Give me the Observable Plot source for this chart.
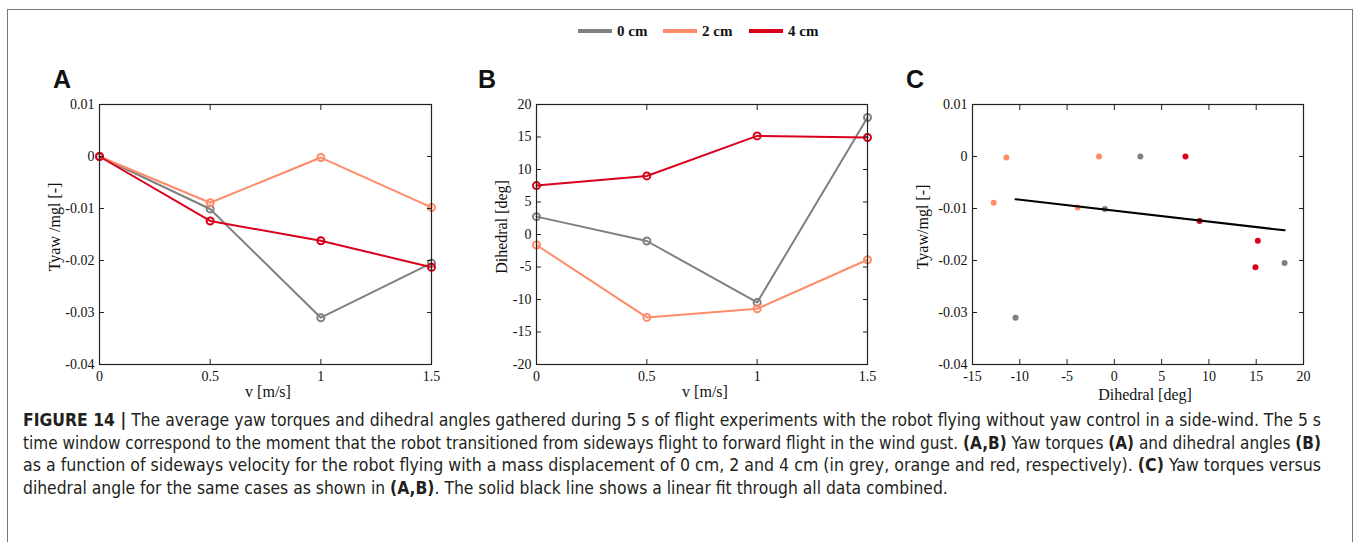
<!DOCTYPE html>
<html>
<head>
<meta charset="utf-8">
<script src="https://cdn.jsdelivr.net/npm/d3@7"></script>
<script src="https://cdn.jsdelivr.net/npm/@observablehq/plot@0.6"></script>
<style>
  html, body { margin: 0; padding: 0; background: #fff; }
  #root { position: relative; width: 1356px; height: 542px; overflow: hidden; background: #fff; }
  #border { position: absolute; left: 7px; top: 9px; width: 1346px; height: 600px;
            border: 1.5px solid #787878; box-sizing: border-box; }
  .plot { position: absolute; top: 60px; }
  .letter { position: absolute; font-family: "Liberation Sans", Arial, sans-serif; font-weight: bold;
            font-size: 25px; line-height: 1; color: #111; }
  .atitle { position: absolute; font-family: "Liberation Serif", serif; font-size: 16px; color: #111;
            white-space: nowrap; line-height: 1; }
  .legend-item { position: absolute; top: 22px; height: 18px; display: flex; align-items: center;
                 font-family: "Liberation Serif", serif; font-weight: bold; font-size: 15px; color: #111; white-space: nowrap; }
  .legend-item .sw { width: 34px; height: 4px; margin-right: 5px; }
  .cap { position: absolute; left: 23px; white-space: nowrap; font-size: 17px; line-height: 1;
         font-family: "Liberation Sans Narrow", "DejaVu Sans Condensed", "Liberation Sans", sans-serif;
         font-stretch: condensed; color: #231f20; transform-origin: 0 50%; }
  .cap b { font-weight: bold; }
</style>
</head>
<body>
<div id="root">
  <div id="border"></div>
</div>
<script>
// ---------- data ----------
const velocity = [0, 0.5, 1, 1.5];
const seriesNames = ["0 cm", "2 cm", "4 cm"];
const seriesColors = ["#808080", "#ff8c69", "#d9001b"];

const tyaw0cm = [0, -0.0101, -0.0310, -0.0205];
const tyaw2cm = [0, -0.0089, -0.0002, -0.0098];
const tyaw4cm = [0, -0.0124, -0.0162, -0.0213];

const dihedral0cm = [2.75, -1.0, -10.45, 18.0];
const dihedral2cm = [-1.62, -12.76, -11.42, -3.88];
const dihedral4cm = [7.52, 9.01, 15.17, 14.92];

// linear fit endpoints
const fitDihedral = [-10.45, 18.0];
const fitTyaw = [-0.0082, -0.0142];

const tyawTicks = [0.01, 0, -0.01, -0.02, -0.03, -0.04];
const velocityTicks = [0, 0.5, 1, 1.5];
const dihedralTicks = [20, 15, 10, 5, 0, -5, -10, -15, -20];
const dihedralXTicks = [-15, -10, -5, 0, 5, 10, 15, 20];

// ---------- build rows ----------
const tyawAll = [tyaw0cm, tyaw2cm, tyaw4cm];
const dihAll = [dihedral0cm, dihedral2cm, dihedral4cm];
const rows = [];
seriesNames.forEach((s, si) => {
  velocity.forEach((v, i) => {
    rows.push({series: s, color: seriesColors[si], v, tyaw: tyawAll[si][i], dihedral: dihAll[si][i]});
  });
});
const fitRows = fitDihedral.map((d, i) => ({dihedral: d, tyaw: fitTyaw[i]}));

const fmt = d => String(d);
const root = document.getElementById("root");

function boxAxes(xTicks, yTicks) {
  return [
    Plot.frame({stroke: "#222", strokeWidth: 1.2}),
    Plot.axisX(xTicks, {anchor: "bottom", tickSize: 0, tickPadding: 7, tickFormat: fmt, label: null}),
    Plot.axisY(yTicks, {anchor: "left", tickSize: 0, tickPadding: 5, tickFormat: fmt, label: null}),
    Plot.axisX(xTicks, {anchor: "bottom", tickSize: 5, dy: -5, tickFormat: () => "", label: null, stroke: "#222"}),
    Plot.axisX(xTicks, {anchor: "top", tickSize: 5, dy: 5, tickFormat: () => "", label: null, stroke: "#222"}),
    Plot.axisY(yTicks, {anchor: "left", tickSize: 5, dx: 5, tickFormat: () => "", label: null, stroke: "#222"}),
    Plot.axisY(yTicks, {anchor: "right", tickSize: 5, dx: -5, tickFormat: () => "", label: null, stroke: "#222"})
  ];
}

function makePlot(left, width, ml, mr, xDomain, yDomain, xTicks, yTicks, marks) {
  const p = Plot.plot({
    width, height: 350,
    marginLeft: ml, marginRight: mr, marginTop: 44, marginBottom: 46,
    style: {fontFamily: "Liberation Serif, serif", fontSize: "14px", color: "#111", background: "transparent", overflow: "visible"},
    x: {domain: xDomain, axis: null},
    y: {domain: yDomain, axis: null},
    marks: [...marks, ...boxAxes(xTicks, yTicks)]
  });
  p.classList.add("plot");
  p.style.left = left + "px";
  root.appendChild(p);
}

const colorOf = Object.fromEntries(seriesNames.map((s, i) => [s, seriesColors[i]]));

function seriesMarks(yField) {
  const marks = [];
  seriesNames.forEach(s => {
    const data = rows.filter(r => r.series === s);
    marks.push(Plot.line(data, {x: "v", y: yField, stroke: colorOf[s], strokeWidth: 2}));
  });
  seriesNames.forEach(s => {
    const data = rows.filter(r => r.series === s);
    marks.push(Plot.dot(data, {x: "v", y: yField, r: 3.5, stroke: colorOf[s], strokeWidth: 2, fill: "none"}));
  });
  return marks;
}

// Panel A
makePlot(0, 450, 99, 19, [0, 1.5], [-0.04, 0.01], velocityTicks, tyawTicks, seriesMarks("tyaw"));
// Panel B
makePlot(450, 440, 86, 23, [0, 1.5], [-20, 20], velocityTicks, dihedralTicks, seriesMarks("dihedral"));
// Panel C
makePlot(890, 440, 82, 27, [-15, 20], [-0.04, 0.01], dihedralXTicks, tyawTicks, [
  Plot.dot(rows, {x: "dihedral", y: "tyaw", r: 3, fill: d => d.color, stroke: "none"}),
  Plot.line(fitRows, {x: "dihedral", y: "tyaw", stroke: "#000", strokeWidth: 2})
]);

// ---------- text elements ----------
function addDiv(cls, html, css) {
  const d = document.createElement("div");
  d.className = cls;
  d.innerHTML = html;
  Object.assign(d.style, css);
  root.appendChild(d);
  return d;
}

// legend
const legendX = [578, 663, 749];
seriesNames.forEach((s, i) => {
  addDiv("legend-item", `<span class="sw" style="background:${seriesColors[i]}"></span>${s}`, {left: legendX[i] + "px"});
});

// panel letters
addDiv("letter", "A", {left: "53px", top: "67px"});
addDiv("letter", "B", {left: "478px", top: "67px"});
addDiv("letter", "C", {left: "906px", top: "67px"});

// axis titles (centered at given points)
function centered(text, cx, cy, rotate) {
  const d = addDiv("atitle", text, {left: cx + "px", top: cy + "px"});
  d.style.transform = `translate(-50%, -50%)${rotate ? " rotate(-90deg)" : ""}`;
}
centered("v [m/s]", 268, 392, false);
centered("v [m/s]", 705, 392, false);
centered("Dihedral [deg]", 1145, 395, false);
centered("Tyaw /mgl [-]", 55, 227, true);
centered("Dihedral [deg]", 502, 227, true);
centered("Tyaw/mgl [-]", 923, 227, true);

// caption
const capLines = [
  "<b>FIGURE 14 |</b> The average yaw torques and dihedral angles gathered during 5 s of flight experiments with the robot flying without yaw control in a side-wind. The 5 s",
  "time window correspond to the moment that the robot transitioned from sideways flight to forward flight in the wind gust. <b>(A,B)</b> Yaw torques <b>(A)</b> and dihedral angles <b>(B)</b>",
  "as a function of sideways velocity for the robot flying with a mass displacement of 0 cm, 2 and 4 cm (in grey, orange and red, respectively). <b>(C)</b> Yaw torques versus",
  "dihedral angle for the same cases as shown in <b>(A,B)</b>. The solid black line shows a linear fit through all data combined."
];
const capY = [421, 444, 466, 489];
const targetW = 1298;
const capDivs = capLines.map((h, i) => addDiv("cap", h, {top: (capY[i] - 9) + "px"}));
const factors = capDivs.slice(0, 3).map(d => targetW / d.getBoundingClientRect().width);
const meanF = factors.reduce((a, b) => a + b, 0) / factors.length;
capDivs.forEach((d, i) => {
  const f = i < 3 ? factors[i] : meanF;
  d.style.transform = `scaleX(${f})`;
});
</script>
</body>
</html>
